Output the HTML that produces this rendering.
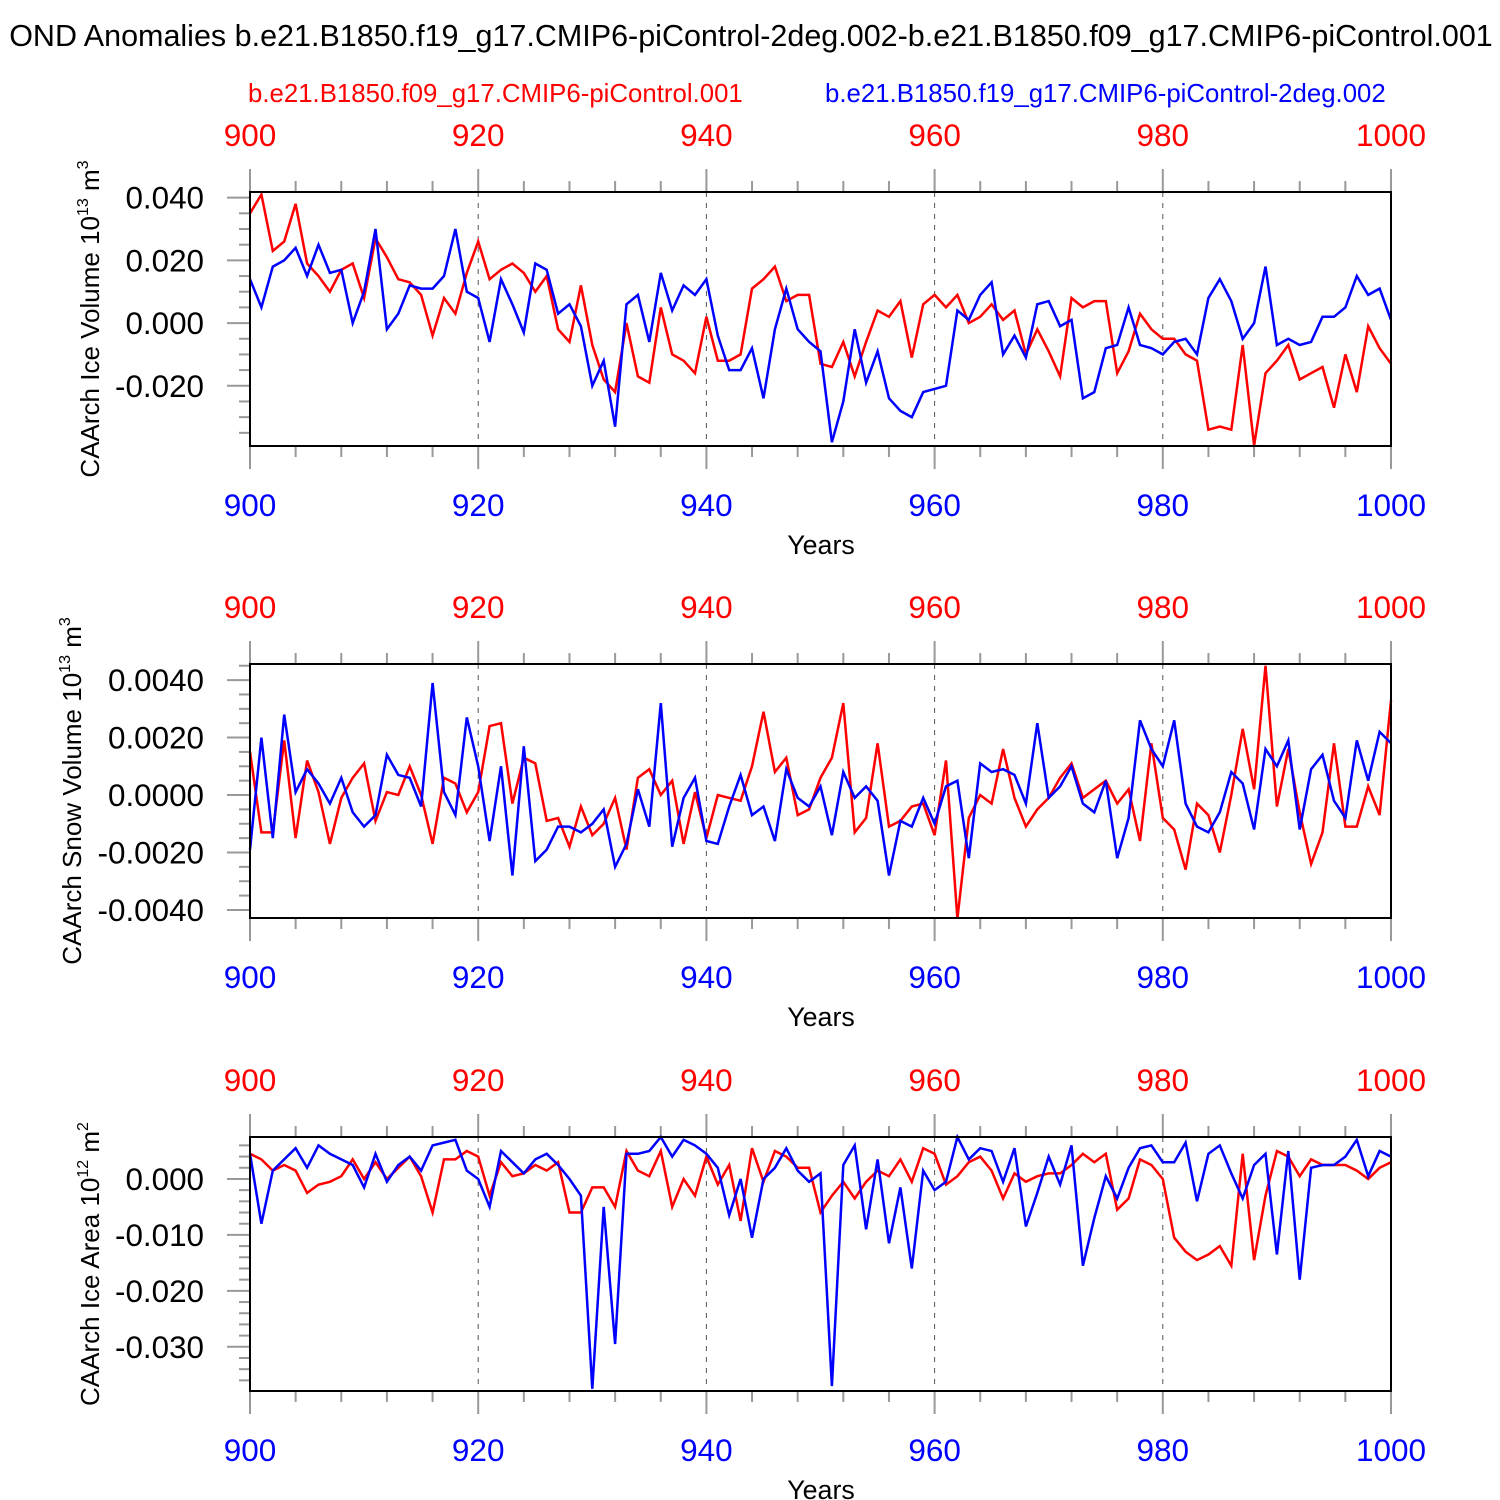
<!DOCTYPE html>
<html><head><meta charset="utf-8"><style>
html,body{margin:0;padding:0;background:#fff;}
svg{display:block;font-family:"Liberation Sans",Arial,sans-serif;}
</style></head><body>
<svg id="chart" width="1500" height="1500" viewBox="0 0 1500 1500" xmlns="http://www.w3.org/2000/svg">
<text x="751" y="46" font-size="30.5" text-anchor="middle" fill="#000">OND Anomalies b.e21.B1850.f19_g17.CMIP6-piControl-2deg.002-b.e21.B1850.f09_g17.CMIP6-piControl.001</text>
<text x="248" y="102" font-size="25.8" fill="#ff0000">b.e21.B1850.f09_g17.CMIP6-piControl.001</text>
<text x="825" y="102" font-size="25.8" fill="#0000ff">b.e21.B1850.f19_g17.CMIP6-piControl-2deg.002</text>
</svg>
<script>
const years=[];for(let y=900;y<=1000;y++)years.push(y);
const iceVolRed=[0.035,0.041,0.023,0.026,0.038,0.019,0.015,0.010,0.017,0.019,0.008,0.027,0.021,0.014,0.013,0.009,-0.004,0.008,0.003,0.016,0.026,0.014,0.017,0.019,0.016,0.010,0.015,-0.002,-0.006,0.012,-0.007,-0.018,-0.022,0.000,-0.017,-0.019,0.005,-0.010,-0.012,-0.016,0.002,-0.012,-0.012,-0.010,0.011,0.014,0.018,0.007,0.009,0.009,-0.013,-0.014,-0.006,-0.017,-0.006,0.004,0.002,0.007,-0.011,0.006,0.009,0.005,0.009,0.000,0.002,0.006,0.001,0.004,-0.010,-0.002,-0.009,-0.017,0.008,0.005,0.007,0.007,-0.016,-0.009,0.003,-0.002,-0.005,-0.005,-0.010,-0.012,-0.034,-0.033,-0.034,-0.007,-0.039,-0.016,-0.012,-0.007,-0.018,-0.016,-0.014,-0.027,-0.010,-0.022,-0.001,-0.008,-0.013];
const iceVolBlue=[0.014,0.005,0.018,0.020,0.024,0.015,0.025,0.016,0.017,0.000,0.010,0.030,-0.002,0.003,0.012,0.011,0.011,0.015,0.030,0.010,0.008,-0.006,0.014,0.006,-0.003,0.019,0.017,0.003,0.006,-0.001,-0.020,-0.012,-0.033,0.006,0.009,-0.006,0.016,0.004,0.012,0.009,0.014,-0.004,-0.015,-0.015,-0.008,-0.024,-0.002,0.011,-0.002,-0.006,-0.009,-0.038,-0.025,-0.002,-0.019,-0.009,-0.024,-0.028,-0.030,-0.022,-0.021,-0.020,0.004,0.001,0.009,0.013,-0.010,-0.004,-0.011,0.006,0.007,-0.001,0.001,-0.024,-0.022,-0.008,-0.007,0.005,-0.007,-0.008,-0.010,-0.006,-0.005,-0.010,0.008,0.014,0.007,-0.005,0.000,0.018,-0.007,-0.005,-0.007,-0.006,0.002,0.002,0.005,0.015,0.009,0.011,0.001];
const snowRed=[1.5,-1.3,-1.3,1.9,-1.5,1.2,0.1,-1.7,-0.1,0.6,1.1,-0.9,0.1,0.0,1.0,0.0,-1.7,0.6,0.4,-0.6,0.1,2.4,2.5,-0.3,1.3,1.1,-0.9,-0.8,-1.8,-0.4,-1.4,-1.0,-0.1,-1.9,0.6,0.9,0.0,0.5,-1.7,0.1,-1.5,0.0,-0.1,-0.2,1.0,2.9,0.8,1.3,-0.7,-0.5,0.6,1.3,3.2,-1.3,-0.8,1.8,-1.1,-0.9,-0.4,-0.3,-1.4,1.2,-4.3,-0.8,0.0,-0.3,1.6,-0.1,-1.1,-0.5,-0.1,0.6,1.1,-0.1,0.2,0.5,-0.3,0.2,-1.6,1.8,-0.8,-1.2,-2.6,-0.3,-0.7,-2.0,0.0,2.3,0.2,4.5,-0.4,1.6,-0.6,-2.4,-1.3,1.8,-1.1,-1.1,0.3,-0.7,3.3].map(v=>v*1e-3);
const snowBlue=[-1.9,2.0,-1.5,2.8,0.1,0.9,0.4,-0.3,0.6,-0.6,-1.1,-0.7,1.4,0.7,0.6,-0.4,3.9,0.1,-0.7,2.7,1.0,-1.6,1.0,-2.8,1.7,-2.3,-1.9,-1.1,-1.1,-1.3,-1.0,-0.5,-2.5,-1.7,0.2,-1.1,3.2,-1.8,-0.1,0.6,-1.6,-1.7,-0.4,0.7,-0.7,-0.4,-1.6,0.9,-0.1,-0.4,0.3,-1.4,0.8,-0.1,0.3,-0.2,-2.8,-0.9,-1.1,-0.1,-1.0,0.3,0.5,-2.2,1.1,0.8,0.9,0.7,-0.3,2.5,-0.1,0.3,1.0,-0.3,-0.6,0.5,-2.2,-0.8,2.6,1.6,1.0,2.6,-0.3,-1.1,-1.3,-0.6,0.8,0.4,-1.2,1.6,1.0,1.9,-1.2,0.9,1.4,-0.2,-0.8,1.9,0.5,2.2,1.8].map(v=>v*1e-3);
const areaRed=[4.5,3.5,1.5,2.5,1.5,-2.5,-1.0,-0.5,0.5,3.5,0.0,3.0,0.0,2.0,4.0,0.5,-6.0,3.5,3.5,5.0,4.0,-3.0,3.0,0.5,1.0,2.5,1.5,3.0,-6.0,-6.0,-1.5,-1.5,-5.0,5.0,1.5,0.5,5.0,-5.0,0.0,-3.0,4.0,-1.0,2.5,-7.5,5.5,-0.5,5.0,4.0,2.0,2.0,-6.0,-3.0,-0.5,-3.5,-0.5,1.5,0.5,3.5,-0.5,5.5,4.5,-1.0,0.5,3.0,4.0,1.5,-3.5,1.0,-0.5,0.5,1.0,1.0,2.5,4.5,3.0,4.5,-5.5,-3.5,3.5,2.5,0.0,-10.5,-13.0,-14.5,-13.5,-12.0,-15.5,4.5,-14.5,-3.0,5.0,4.0,0.5,3.5,2.5,2.5,2.5,1.5,0.0,2.0,3.0].map(v=>v*1e-3);
const areaBlue=[4.5,-8.0,1.5,3.5,5.5,2.0,6.0,4.5,3.5,2.5,-1.5,4.5,-0.5,2.5,4.0,1.5,6.0,6.5,7.0,1.5,0.0,-5.0,5.0,3.0,1.0,3.5,4.5,2.5,0.0,-3.0,-37.5,-5.0,-29.5,4.5,4.5,5.0,7.5,4.0,7.0,6.0,4.5,2.0,-6.5,0.0,-10.5,0.0,2.0,5.5,1.5,-0.5,1.0,-37.0,2.5,6.0,-9.0,3.5,-11.5,-1.5,-16.0,1.5,-2.0,-0.5,7.5,3.5,5.5,5.0,-0.5,5.5,-8.5,-2.5,4.0,-1.0,6.0,-15.5,-7.0,0.5,-3.5,2.0,5.5,6.0,3.0,3.0,6.5,-4.0,4.5,6.0,1.0,-3.5,2.5,4.5,-13.5,5.0,-18.0,2.0,2.5,2.5,4.0,7.0,0.5,5.0,4.0].map(v=>v*1e-3);
const xTickLabels=["900","920","940","960","980","1000"];
const iceVolTicks=[0.04,0.02,0,-0.02], iceVolLabels=["0.040","0.020","0.000","-0.020"];
const snowTicks=[0.004,0.002,0,-0.002,-0.004], snowLabels=["0.0040","0.0020","0.0000","-0.0020","-0.0040"];
const areaTicks=[0,-0.01,-0.02,-0.03], areaLabels=["0.000","-0.010","-0.020","-0.030"];

const NS="http://www.w3.org/2000/svg";
const svg=document.getElementById('chart');
function mk(tag,attrs,parent){const e=document.createElementNS(NS,tag);for(const k in attrs)e.setAttribute(k,attrs[k]);(parent||svg).appendChild(e);return e;}
const X0=250,X1=1391;
function xs(yr){return X0+(yr-900)/100*(X1-X0);}

function panel(cfg){
  const g=mk('g',{});
  
  
  const top=cfg.top,bot=cfg.bot;
  const ys=v=>top+(cfg.vmax-v)/(cfg.vmax-cfg.vmin)*(bot-top);
  for(const yr of [920,940,960,980]){const l=mk('line',{x1:xs(yr),x2:xs(yr),y1:top,y2:bot,stroke:'#555','stroke-width':1,'stroke-dasharray':'5,6'},g);
    }
  for(let yr=900;yr<=1000;yr+=4){const maj=(yr%20===0);const L=maj?23:11;
    mk('line',{x1:xs(yr),x2:xs(yr),y1:top,y2:top-L,stroke:'#999','stroke-width':2},g);
    mk('line',{x1:xs(yr),x2:xs(yr),y1:bot,y2:bot+L,stroke:'#999','stroke-width':2},g);}
  xTickLabels.forEach(s=>{const yr=+s;
    const t1=mk('text',{x:xs(yr),y:top-46,'font-size':31.5,'text-anchor':'middle',fill:'#ff0000'},g);t1.textContent=s;
    
    const t2=mk('text',{x:xs(yr),y:bot+70,'font-size':31.5,'text-anchor':'middle',fill:'#0000ff'},g);t2.textContent=s;
    });
  const xt=mk('text',{x:821,y:bot+108,'font-size':26.8,'text-anchor':'middle',fill:'#000'},g);xt.textContent='Years';
  
  const start=Math.ceil(cfg.vmin/cfg.minor-1e-6);
  for(let i=start;i*cfg.minor<=cfg.vmax+1e-12;i++){const v=i*cfg.minor;const maj=Math.abs(v/cfg.major-Math.round(v/cfg.major))<1e-6;
    mk('line',{x1:X0,x2:X0-(maj?23:11),y1:ys(v),y2:ys(v),stroke:'#999','stroke-width':2},g);}
  cfg.ticks.forEach((v,i)=>{const t=mk('text',{x:204,y:ys(v)+11,'font-size':31.4,'text-anchor':'end',fill:'#000'},g);t.textContent=cfg.labels[i];
    });
  const yt=mk('text',{transform:`translate(${cfg.tx},${cfg.ty}) rotate(-90)`,'font-size':26,'text-anchor':'middle',fill:'#000'},g);
  
  yt.appendChild(document.createTextNode(cfg.title+' 10'));
  const s1=mk('tspan',{'font-size':16,dy:-11},yt);s1.textContent=cfg.exp1;
  const s2=mk('tspan',{dy:11},yt);s2.textContent=' m';
  const s3=mk('tspan',{'font-size':16,dy:-11},yt);s3.textContent=cfg.exp2;
  [[cfg.red,'#ff0000','series-red'],[cfg.blue,'#0000ff','series-blue']].forEach(([arr,c,nm])=>{
    const pts=arr.map((v,i)=>xs(years[i]).toFixed(1)+','+ys(v).toFixed(1)).join(' ');
    const p=mk('polyline',{points:pts,fill:'none',stroke:c,'stroke-width':2.5,'stroke-linejoin':'miter'},g);
    });
  const fr=mk('rect',{x:X0,y:top,width:X1-X0,height:bot-top,fill:'none',stroke:'#000','stroke-width':2},g);
  
}
panel({name:'ice-volume-panel',top:192,bot:446,vmax:0.0418,vmin:-0.0392,major:0.02,minor:0.005,ticks:iceVolTicks,labels:iceVolLabels,red:iceVolRed,blue:iceVolBlue,title:'CAArch Ice Volume',exp1:'13',exp2:'3',tx:99,ty:319});
panel({name:'snow-volume-panel',top:664,bot:918,vmax:0.00456,vmin:-0.00428,major:0.002,minor:0.0005,ticks:snowTicks,labels:snowLabels,red:snowRed,blue:snowBlue,title:'CAArch Snow Volume',exp1:'13',exp2:'3',tx:81,ty:791});
panel({name:'ice-area-panel',top:1137,bot:1391,vmax:0.0075,vmin:-0.0379,major:0.01,minor:0.002,ticks:areaTicks,labels:areaLabels,red:areaRed,blue:areaBlue,title:'CAArch Ice Area',exp1:'12',exp2:'2',tx:99,ty:1264});
</script>
</body></html>
